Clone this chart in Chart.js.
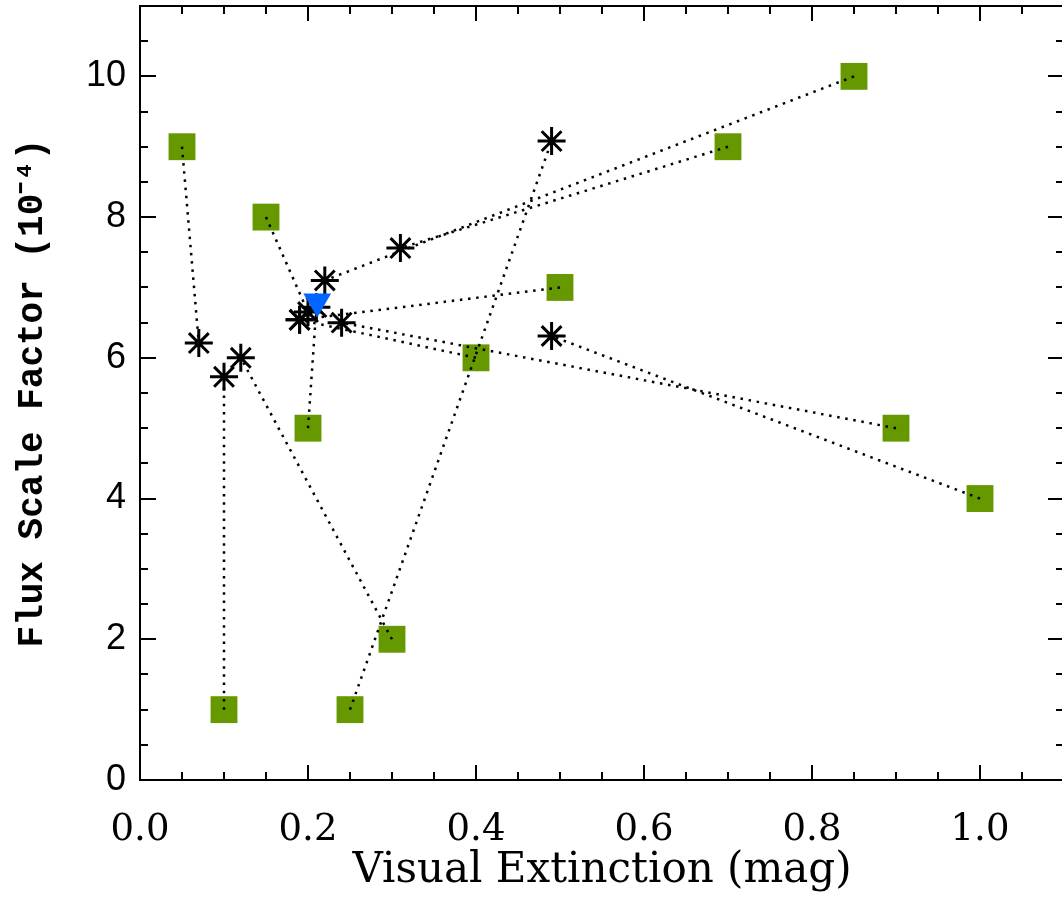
<!DOCTYPE html>
<html>
<head>
<meta charset="utf-8">
<script src="https://cdn.jsdelivr.net/npm/chart.js@4.4.1/dist/chart.umd.min.js"></script>
<style>
  html, body { margin: 0; padding: 0; background: #fff; overflow: hidden; }
  #wrap { width: 1066px; height: 902px; }
</style>
</head>
<body>
<div id="wrap"><canvas id="c" width="1066" height="902"></canvas></div>
<script>
// ---- data ----
// observed (square) points
const squareAv   = [0.05, 0.15, 0.20, 0.10, 0.25, 0.30, 0.40, 0.50, 0.70, 0.85, 0.90, 1.00];
const squareFlux = [9,    8,    5,    1,    1,    2,    6,    7,    9,    10,   5,    4];
// fitted (asterisk) points, paired index-by-index with the squares
const starAv     = [0.07, 0.20, 0.21, 0.10, 0.49, 0.12, 0.19, 0.19, 0.31, 0.22, 0.24, 0.49];
const starFlux   = [6.21, 6.65, 6.72, 5.73, 9.08, 6.00, 6.54, 6.54, 7.56, 7.10, 6.50, 6.31];
// upper-limit (triangle) point
const limitAv    = [0.211];
const limitFlux  = [6.80];
// axes
const xMin = 0, xMax = 1.1, xMajor = 0.2, xMinor = 0.05;
const yMin = 0, yMax = 11,  yMajor = 2,   yMinor = 0.5;
const xTitle = 'Visual Extinction (mag)';
const yTitle = 'Flux Scale Factor (10\u207B\u2074)';

const toPts = (xs, ys) => xs.map((x, i) => ({ x: x, y: ys[i] }));

const lineSets = squareAv.map((x, i) => ({
  type: 'line',
  data: [{ x: x, y: squareFlux[i] }, { x: starAv[i], y: starFlux[i] }],
  borderColor: '#000',
  borderWidth: 2.5,
  borderDash: [2.5, 5.7],
  borderCapStyle: 'butt',
  pointRadius: 0,
  fill: false,
  order: 2
}));

const isMult = (v, step) => Math.abs(v / step - Math.round(v / step)) < 1e-6;

const noPad = s => { s.paddingTop = 0; s.paddingBottom = 0; s.paddingLeft = 0; s.paddingRight = 0; };

const frame = {
  id: 'frame',
  beforeDatasetsDraw(chart) {
    const { ctx, chartArea: a, scales } = chart;
    ctx.save();
    ctx.strokeStyle = '#000';
    ctx.lineWidth = 2;
    ctx.strokeRect(a.left, a.top, a.right - a.left, a.bottom - a.top);
    ctx.beginPath();
    const xs = scales.x;
    const nX = Math.round((xMax - xMin) / xMinor);
    for (let i = 0; i <= nX; i++) {
      const v = xMin + i * xMinor;
      const p = Math.round(xs.getPixelForValue(v));
      const len = isMult(v, xMajor) ? 15 : 8;
      ctx.moveTo(p, a.bottom); ctx.lineTo(p, a.bottom - len);
      ctx.moveTo(p, a.top);    ctx.lineTo(p, a.top + len);
    }
    const ys = scales.y;
    const nY = Math.round((yMax - yMin) / yMinor);
    for (let i = 0; i <= nY; i++) {
      const v = yMin + i * yMinor;
      const p = Math.round(ys.getPixelForValue(v));
      const len = isMult(v, yMajor) ? 16 : 8;
      ctx.moveTo(a.left, p);  ctx.lineTo(a.left + len, p);
      ctx.moveTo(a.right, p); ctx.lineTo(a.right - len, p);
    }
    ctx.stroke();
    ctx.restore();
  }
};

new Chart(document.getElementById('c'), {
  type: 'scatter',
  data: {
    datasets: [
      {
        data: toPts(limitAv, limitFlux),
        pointStyle: 'triangle',
        rotation: 180,
        pointRadius: 16,
        backgroundColor: '#0066ff',
        borderWidth: 0,
        order: 0
      },
      {
        data: toPts(starAv, starFlux),
        pointStyle: 'star',
        pointRadius: 14,
        borderColor: '#000',
        borderWidth: 3,
        order: 1
      },
      ...lineSets,
      {
        data: toPts(squareAv, squareFlux),
        pointStyle: 'rect',
        pointRadius: 19,
        backgroundColor: '#669900',
        borderWidth: 0,
        order: 3
      }
    ]
  },
  options: {
    responsive: false,
    animation: false,
    devicePixelRatio: 1,
    layout: { autoPadding: false, padding: { top: 6, right: 2, left: 0, bottom: 0 } },
    plugins: { legend: { display: false }, tooltip: { enabled: false } },
    scales: {
      x: {
        type: 'linear', min: xMin, max: xMax,
        grid: { display: false, drawTicks: false },
        border: { display: false },
        ticks: {
          stepSize: xMinor, autoSkip: false, maxRotation: 0, padding: 28,
          color: '#000',
          font: { family: 'DejaVu Serif', size: 37 },
          callback: v => isMult(v, xMajor) ? v.toFixed(1) : ''
        },
        title: {
          display: true, text: xTitle, color: '#000',
          font: { family: 'DejaVu Serif', size: 42 },
          padding: { top: 0, bottom: 6 }
        },
        afterFit: s => { s.height = 122; noPad(s); }
      },
      y: {
        type: 'linear', min: yMin, max: yMax,
        grid: { display: false, drawTicks: false },
        border: { display: false },
        ticks: {
          stepSize: yMinor, autoSkip: false, padding: 14,
          color: '#000',
          font: { family: 'Liberation Sans', size: 36 },
          callback: v => isMult(v, yMajor) ? String(v) : ''
        },
        title: {
          display: true, text: yTitle, color: '#000',
          font: { family: 'Liberation Mono', size: 36, weight: 'bold' },
          padding: { top: 11, bottom: 0 }
        },
        afterFit: s => { s.width = 140; noPad(s); }
      }
    }
  },
  plugins: [frame]
});
</script>
</body>
</html>
